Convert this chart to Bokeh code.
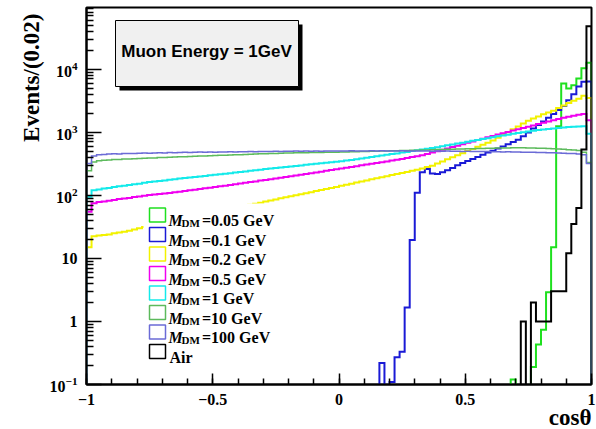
import math
from bokeh.plotting import figure
from bokeh.models import (Range1d, FixedTicker, SingleIntervalTicker,
                          LogTickFormatter, BoxAnnotation, Label, Title)
from bokeh.embed import file_html
from bokeh.resources import INLINE

# ---------------- data (histograms, 100 bins of 0.02 in cos(theta)) ----------------
bin_width = 0.02
x_start, x_end = -1.0, 1.0
y_start, y_end = 0.1, 95000.0

mdm_0p05 = [0.0] * 84 + [0.12, 0, 0, 0, 0.19, 0.43, 0.74, 2.9, 15, 1240,
                         5900, 4930, 5570, 7110, 10300, 12600]

mdm_0p1 = [0.0] * 58 + [0.22, 0, 0.11, 0.27, 0.33, 1.66, 19.6, 110, 233, 262,
                        222, 218, 232, 250, 272, 300, 325, 350, 378, 405,
                        440, 475, 510, 550, 595, 645, 700, 760, 860, 990,
                        1150, 1300, 1480, 1700, 1950, 2250, 2600, 3200, 4000, 5300,
                        6300, 6400]

mdm_0p2 = [15, 22.5, 23, 23.5, 24, 25, 25.8, 26.5, 27.5, 28.8,
           30, 31.5, 32.5, 33.5, 35, 36.5, 38, 39.5, 41, 42.5,
           44, 46, 48, 50, 52, 54, 56, 58, 60.5, 63,
           65.5, 68, 70.5, 73.5, 76.5, 79.5, 83, 86, 89.5, 93,
           96.5, 100, 104, 108, 112, 117, 121, 126, 131, 136,
           142, 147, 153, 159, 165, 172, 179, 186, 193, 201,
           209, 217, 226, 235, 245, 255, 266, 280, 295, 320,
           345, 372, 400, 432, 466, 503, 543, 586, 633, 683,
           740, 820, 905, 1000, 1110, 1230, 1370, 1520, 1650, 1780,
           1920, 2060, 2200, 2420, 2650, 2900, 3150, 3400, 3800, 3500]

mdm_0p5 = [55, 75, 78, 80, 82, 84, 87, 89, 91, 94,
           96, 98, 101, 103, 105, 107, 109, 112, 114, 117,
           120, 123, 126, 129, 132, 135, 139, 142, 146, 150,
           154, 158, 162, 166, 171, 175, 180, 185, 190, 195,
           200, 206, 212, 218, 224, 230, 237, 244, 251, 258,
           266, 274, 282, 290, 299, 307, 316, 325, 335, 345,
           355, 366, 377, 390, 403, 416, 430, 452, 476, 500,
           526, 554, 583, 613, 645, 679, 714, 751, 790, 831,
           875, 920, 965, 1012, 1062, 1112, 1165, 1220, 1280, 1345,
           1410, 1480, 1550, 1620, 1690, 1760, 1830, 1900, 1950, 1550]

mdm_1 = [95, 120, 124, 128, 131, 136, 139, 142, 146, 150,
         153, 158, 162, 165, 169, 172, 176, 180, 184, 188,
         191, 195, 199, 203, 207, 211, 215, 220, 224, 229,
         234, 239, 244, 250, 255, 261, 266, 271, 276, 282,
         287, 292, 298, 304, 310, 316, 322, 328, 334, 341,
         348, 356, 364, 374, 384, 394, 404, 415, 426, 438,
         450, 462, 475, 488, 502, 516, 532, 548, 563, 580,
         600, 620, 640, 662, 684, 707, 731, 755, 780, 806,
         832, 860, 888, 916, 944, 972, 1000, 1028, 1055, 1080,
         1105, 1128, 1150, 1172, 1192, 1210, 1226, 1238, 1246, 950]

mdm_10 = [246, 336, 352, 358, 362, 368, 371, 375, 377, 380,
          384, 386, 390, 392, 396, 398, 401, 404, 408, 410,
          413, 415, 418, 421, 424, 426, 430, 432, 435, 438,
          441, 444, 447, 450, 455, 457, 460, 462, 464, 467,
          468, 471, 472, 474, 476, 477, 479, 480, 482, 483,
          485, 487, 489, 492, 494, 496, 499, 501, 503, 506,
          508, 510, 513, 515, 518, 520, 523, 525, 528, 530,
          533, 535, 538, 540, 543, 546, 548, 551, 553, 556,
          558, 560, 562, 563, 565, 565, 566, 564, 562, 559,
          555, 550, 546, 540, 535, 528, 522, 514, 482, 330]

mdm_100 = [320, 420, 438, 445, 450, 455, 452, 460, 462, 458,
           466, 468, 464, 470, 472, 469, 475, 473, 478, 480,
           476, 482, 484, 480, 486, 483, 488, 485, 490, 487,
           492, 489, 494, 491, 496, 493, 497, 499, 495, 500,
           498, 502, 499, 503, 500, 504, 501, 505, 502, 506,
           503, 505, 507, 504, 506, 503, 507, 505, 508, 504,
           506, 503, 507, 504, 505, 502, 506, 503, 501, 504,
           500, 502, 499, 501, 497, 499, 495, 497, 493, 494,
           490, 492, 488, 489, 486, 485, 483, 481, 480, 477,
           476, 473, 472, 469, 466, 462, 458, 452, 438, 320]

air = [0.0] * 86 + [1, 0, 2, 1, 1, 1, 3, 3, 3, 12, 35, 63, 530, 48000]

legend_labels = ["=0.05 GeV", "=0.1 GeV", "=0.2 GeV", "=0.5 GeV",
                 "=1 GeV", "=10 GeV", "=100 GeV", "Air"]
x_tick_values = [-1, -0.5, 0, 0.5, 1]
x_tick_labels = ["\u22121", "\u22120.5", "0", "0.5", "1"]
y_major_ticks = [0.1, 1, 10, 100, 1000, 10000]

# ---------------- styling ----------------
series = [
    (mdm_0p05, "#1fe01f", 2.0),
    (mdm_0p1, "#1a1ad6", 2.0),
    (mdm_0p2, "#f2f200", 2.0),
    (mdm_0p5, "#f000f0", 2.0),
    (mdm_1, "#14eaea", 2.0),
    (mdm_10, "#5cba5c", 1.5),
    (mdm_100, "#6b6bd6", 1.5),
    (air, "#000000", 2.0),
]
floor = y_start * 1e-2

SERIF = "Liberation Serif"
SANS = "Liberation Sans"

p = figure(width=596, height=429,
           x_range=Range1d(x_start, x_end), y_range=Range1d(y_start, y_end),
           y_axis_type="log", output_backend="svg", toolbar_location=None,
           min_border_left=86, min_border_right=5, min_border_top=7,
           min_border_bottom=45)
p.background_fill_color = "white"
p.border_fill_color = "white"
p.outline_line_color = "black"
p.outline_line_width = 2
p.xgrid.grid_line_color = None
p.ygrid.grid_line_color = None


def hist_path(values):
    xs, ys = [x_start], [floor]
    for i, v in enumerate(values):
        lo = x_start + i * bin_width
        hi = x_start + (i + 1) * bin_width
        h = v if v > 0 else floor
        xs += [lo, hi]
        ys += [h, h]
    xs.append(x_end)
    ys.append(floor)
    return xs, ys


for vals, col, lw in series:
    xs, ys = hist_path(vals)
    p.line(xs, ys, line_color=col, line_width=lw, line_join="miter")

# ---------------- axes ----------------
p.xaxis.ticker = SingleIntervalTicker(interval=0.5, num_minor_ticks=5)
p.xaxis.major_label_overrides = dict(zip(x_tick_values, x_tick_labels))
p.yaxis.ticker = FixedTicker(
    ticks=y_major_ticks,
    minor_ticks=[m * t for t in y_major_ticks for m in range(2, 10)])
p.yaxis.formatter = LogTickFormatter()
p.yaxis.major_label_overrides = {1: "1", 10: "10"}

for ax in (p.xaxis[0], p.yaxis[0]):
    ax.axis_line_width = 2
    ax.axis_line_color = "black"
    ax.major_tick_out = 0
    ax.minor_tick_out = 0
    ax.major_tick_line_width = 1.5
    ax.minor_tick_line_width = 1.5
    ax.major_label_text_font = SERIF
    ax.major_label_text_font_style = "bold"
    ax.major_label_text_font_size = "16px"
    ax.major_label_text_color = "black"
p.xaxis.major_tick_in = 11
p.xaxis.minor_tick_in = 6
p.yaxis.major_tick_in = 15
p.yaxis.minor_tick_in = 7
p.xaxis.major_label_standoff = 9
p.yaxis.major_label_standoff = 9

# axis titles (as side titles, aligned to the axis end like ROOT)
p.add_layout(Title(text="Events/(0.02)", align="right",
                   text_font=SERIF, text_font_style="bold",
                   text_font_size="23px", text_color="black",
                   standoff=6, offset=6), "left")
p.add_layout(Title(text="cos\u03b8", align="right",
                   text_font=SERIF, text_font_style="bold",
                   text_font_size="23px", text_color="black",
                   standoff=-9), "below")

# ---------------- title box ----------------
p.add_layout(BoxAnnotation(left=33, right=216, top=360, bottom=294,
                           left_units="screen", right_units="screen",
                           top_units="screen", bottom_units="screen",
                           fill_color="black", fill_alpha=1.0, line_color=None))
p.add_layout(BoxAnnotation(left=29, right=212, top=364, bottom=298,
                           left_units="screen", right_units="screen",
                           top_units="screen", bottom_units="screen",
                           fill_color="#f0f0f0", fill_alpha=1.0,
                           line_color="black", line_width=1, line_alpha=1.0))
p.add_layout(Label(x=120, y=333, x_units="screen", y_units="screen",
                   text="Muon Energy = 1GeV", text_align="center",
                   text_baseline="alphabetic", text_font=SANS,
                   text_font_style="bold", text_font_size="17px",
                   text_color="black"))

# ---------------- legend ----------------
p.add_layout(BoxAnnotation(left=57, right=199, top=181, bottom=22,
                           left_units="screen", right_units="screen",
                           top_units="screen", bottom_units="screen",
                           fill_color="white", fill_alpha=1.0, line_color=None))
for k, ((vals, col, lw), lab) in enumerate(zip(series, legend_labels)):
    yc = 169.5 - 19.5 * k
    p.add_layout(BoxAnnotation(left=63, right=79, top=yc + 7, bottom=yc - 7,
                               left_units="screen", right_units="screen",
                               top_units="screen", bottom_units="screen",
                               fill_alpha=0.0, line_color=col, line_width=1.5,
                               line_alpha=1.0))
    base = yc - 5.5
    if lab == "Air":
        p.add_layout(Label(x=83, y=base, x_units="screen", y_units="screen",
                           text=lab, text_baseline="alphabetic",
                           text_font=SERIF, text_font_style="bold",
                           text_font_size="16px", text_color="black"))
    else:
        p.add_layout(Label(x=82, y=base, x_units="screen", y_units="screen",
                           text="M", text_baseline="alphabetic",
                           text_font=SERIF, text_font_style="bold italic",
                           text_font_size="16px", text_color="black"))
        p.add_layout(Label(x=95, y=base - 2.5, x_units="screen", y_units="screen",
                           text="DM", text_baseline="alphabetic",
                           text_font=SERIF, text_font_style="bold",
                           text_font_size="11px", text_color="black"))
        p.add_layout(Label(x=115.5, y=base, x_units="screen", y_units="screen",
                           text=lab, text_baseline="alphabetic",
                           text_font=SERIF, text_font_style="bold",
                           text_font_size="16px", text_color="black"))

open("out.html", "w").write(file_html(p, INLINE))
